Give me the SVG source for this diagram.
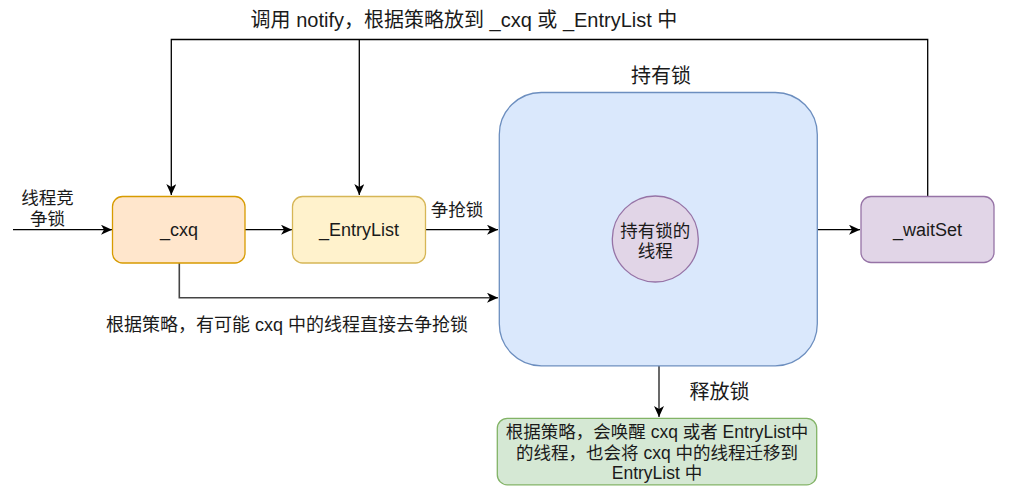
<svg xmlns="http://www.w3.org/2000/svg" width="1018" height="494" viewBox="0 0 1018 494">
<style>
  text { font-family: "Liberation Sans", "Noto Sans CJK SC", sans-serif; fill: #1a1a1a; text-anchor: middle; dominant-baseline: central; }
  .s18 { font-size: 18px; }
  .s17 { font-size: 17.5px; }
  .s20 { font-size: 20px; }
  .edge { fill: none; stroke: #000; stroke-width: 1.3; }
  .edge2 { fill: none; stroke: #444; stroke-width: 1.6; }
</style>
<defs>
  <marker id="arr" markerUnits="userSpaceOnUse" markerWidth="12" markerHeight="10" refX="11" refY="5" orient="auto">
    <path d="M0,0 L11,5 L0,10 L3,5 Z" fill="#000"/>
  </marker>
</defs>
<rect width="1018" height="494" fill="#fff"/>
<g id="connectors">
  <path class="edge" d="M13,229.7 H112" marker-end="url(#arr)"/>
  <path class="edge" d="M245,229.7 H292" marker-end="url(#arr)"/>
  <path class="edge" d="M426,229.7 H498" marker-end="url(#arr)"/>
  <path class="edge" d="M817,229.7 H860" marker-end="url(#arr)"/>
  <path class="edge" d="M927.7,196 V39.5 H171.3 V195" marker-end="url(#arr)"/>
  <path class="edge" d="M359.3,39.5 V195" marker-end="url(#arr)"/>
  <path class="edge2" d="M179.3,263 V297.7 H498" marker-end="url(#arr)"/>
  <path class="edge2" d="M659,366 V417" marker-end="url(#arr)"/>
</g>
<g id="label-notify"><text class="s20" x="464" y="20">调用 notify，根据策略放到 _cxq 或 _EntryList 中</text></g>
<g id="label-compete"><text class="s17" x="47.5" y="197.5">线程竞</text><text class="s17" x="47.5" y="218.5">争锁</text></g>
<g id="label-grab"><text class="s17" x="457" y="210">争抢锁</text></g>
<g id="label-direct"><text class="s18" x="287" y="325">根据策略，有可能 cxq 中的线程直接去争抢锁</text></g>
<g id="label-release"><text class="s20" x="719.5" y="391.5">释放锁</text></g>
<g id="node-cxq">
  <rect x="112.5" y="196.5" width="132.5" height="66.5" rx="10" fill="#ffe6cc" stroke="#d79b00" stroke-width="1.3"/>
  <text class="s18" x="179" y="229.7">_cxq</text>
</g>
<g id="node-entrylist">
  <rect x="292.5" y="196.5" width="133" height="66.5" rx="10" fill="#fff2cc" stroke="#d6b656" stroke-width="1.3"/>
  <text class="s18" x="359" y="229.7">_EntryList</text>
</g>
<g id="node-hold">
  <text class="s20" x="661" y="76">持有锁</text>
  <rect x="499.3" y="92.5" width="318" height="273.3" rx="42" fill="#dae8fc" stroke="#6c8ebf" stroke-width="1.3"/>
</g>
<g id="node-thread">
  <circle cx="655.3" cy="239" r="43" fill="#e1d5e7" stroke="#9673a6" stroke-width="1.3"/>
  <text class="s17" x="655.3" y="230.5">持有锁的</text>
  <text class="s17" x="655.3" y="251">线程</text>
</g>
<g id="node-waitset">
  <rect x="861" y="196.5" width="133" height="66" rx="10" fill="#e1d5e7" stroke="#9673a6" stroke-width="1.3"/>
  <text class="s18" x="927.5" y="229.5">_waitSet</text>
</g>
<g id="node-release">
  <rect x="497.3" y="418.3" width="319.4" height="66.5" rx="10" fill="#d5e8d4" stroke="#82b366" stroke-width="1.3"/>
  <text class="s17" x="657" y="431.7">根据策略，会唤醒 cxq 或者 EntryList中</text>
  <text class="s17" x="657" y="453">的线程，也会将 cxq 中的线程迁移到</text>
  <text class="s17" x="657" y="473.3">EntryList 中</text>
</g>
</svg>
